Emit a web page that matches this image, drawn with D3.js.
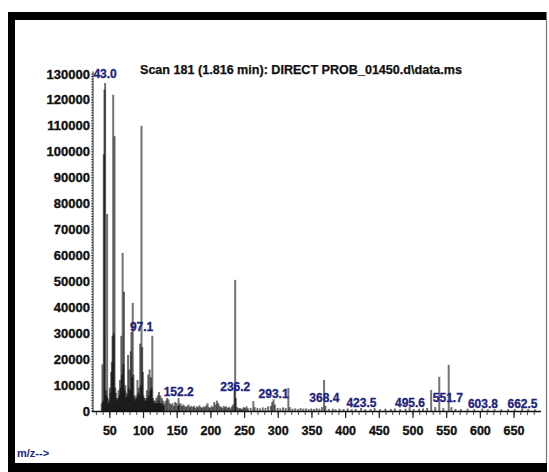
<!DOCTYPE html>
<html lang="en">
<head>
  <meta charset="UTF-8" />
  <title>Scan 181 mass spectrum</title>
  <style>
    html, body { margin:0; padding:0; background:#fff; }
    svg { display:block; font-family:"Liberation Sans", Arial, sans-serif; }
    .tick-lbl { font-weight:bold; fill:#111; stroke:#111; stroke-width:0.35px; }
    .peak-lbl { font-weight:bold; fill:#1c2280; stroke:#1c2280; stroke-width:0.3px; }
  </style>
</head>
<body>
  <svg id="chart" width="549" height="472"></svg>
  <script src="https://d3js.org/d3.v7.min.js"></script>
  <script>
  // m/z values of the peaks and their abundances
  const peakMz = [
    38,39,40,41,42,43,44,45,46,47,48,49,50,51,52,53,54,55,56,57,58,59,60,61,62,63,64,65,66,67,68,69,70,
    71,72,73,74,75,76,77,78,79,80,81,82,83,84,85,86,87,88,89,90,91,92,93,94,95,96,97,98,99,100,
    101,102,103,104,105,106,107,108,109,110,111,112,113,114,115,116,117,118,119,120,121,122,123,124,125,
    126,127,128,129,130,131,133,135,137,139,141,143,145,147,149,151,152,153,155,157,159,161,163,165,167,
    169,171,173,175,177,179,181,183,185,187,189,191,193,195,197,199,201,203,205,207,209,211,213,215,217,
    219,221,223,225,227,229,231,233,235,236,237,239,241,243,245,247,249,251,253,255,259,263,265,269,273,
    277,281,285,289,291,293,295,299,303,307,311,315,317,321,325,329,333,337,341,345,349,353,357,361,365,
    368,370,375,381,385,391,397,403,409,415,423,429,437,443,451,459,467,473,481,489,495,501,509,515,521,
    527,533,539,545,553,557,563,571,581,591,603,611,621,631,641,651,662,671,681
  ];
  const peakAbund = [
    3000,18000,4000,99000,124000,126500,8000,6000,76000,5000,3000,4000,9000,7000,15000,19000,29000,122000,30000,106000,9000,7000,5000,4000,5000,8000,6000,12000,9000,29000,14000,61000,18000,
    46000,8000,10000,5000,7000,6000,21600,9000,16000,8000,23000,30500,13000,41700,14000,6000,5000,4000,6000,5000,12000,7000,9000,6000,26000,10000,110000,24700,15000,6000,
    5000,4000,5000,4000,8000,5000,14000,6000,16000,8000,13000,9000,29000,5000,4000,3000,4000,3000,5000,3000,6000,4000,7300,3000,6000,
    3000,5000,2500,4000,2000,3000,4000,5000,4500,3000,2500,3000,2000,3500,3000,2000,5000,2500,3000,2000,2500,2000,1500,2000,2500,
    1500,2000,1500,2000,1200,1800,1500,2200,1500,1200,1800,1500,2200,3000,1500,1200,2000,1500,3500,2500,4000,3000,2000,1500,1200,
    2000,1500,1800,1200,1500,1000,1800,2500,9000,50600,5000,1500,1000,1200,800,1000,1500,1200,1800,1000,1200,3800,1500,1200,1000,
    1400,1200,1800,2000,3500,4500,2500,1200,1000,1400,1200,8900,1500,900,1000,800,1200,900,1000,700,1000,800,1100,900,1500,
    12000,2000,800,900,700,900,800,1000,700,800,1200,700,800,1200,700,900,800,1000,700,900,1500,800,900,1000,1200,
    8100,1500,13200,1200,17800,1500,800,700,900,700,1000,700,800,700,700,800,1000,700,600
  ];

  // peak annotations: text, m/z and abundance level of the label baseline
  const labelText = ["43.0","97.1","152.2","236.2","293.1","368.4","423.5","495.6","551.7","603.8","662.5"];
  const labelMz   = [43, 97.1, 152.2, 236.2, 293.1, 368.4, 423.5, 495.6, 551.7, 603.8, 662.5];
  const labelAbund = [128500, 30900, 5800, 7700, 5200, 3300, 1500, 1500, 3500, 1200, 1200];

  const yTicks = [0,10000,20000,30000,40000,50000,60000,70000,80000,90000,100000,110000,120000,130000];
  const xTicks = [50,100,150,200,250,300,350,400,450,500,550,600,650];

  const title = "Scan 181 (1.816 min): DIRECT PROB_01450.d\\data.ms";
  const xCaption = "m/z-->";

  const svg = d3.select('#chart');

  // frame: thick black border, thin grey right edge
  svg.append('rect').attr('x',8).attr('y',12).attr('width',541).attr('height',462).attr('fill','#000');
  svg.append('rect').attr('x',15).attr('y',20).attr('width',531).attr('height',443).attr('fill','#fff');
  svg.append('rect').attr('x',547).attr('y',12).attr('width',2).attr('height',462).attr('fill','#fff');
  svg.append('line').attr('x1',546.5).attr('x2',546.5).attr('y1',12).attr('y2',463)
    .attr('stroke','#777').attr('stroke-width',1.2);

  const x = d3.scaleLinear().domain([25, 690]).range([93, 541]);
  const y = d3.scaleLinear().domain([0, 130000]).range([411, 74]);

  // peaks (translucent so that crowded lines add up to solid black)
  const peaks = peakMz.map((m,i) => ({ m, v: peakAbund[i] }));
  svg.append('g').selectAll('line').data(peaks).join('line')
    .attr('x1', d => x(d.m)).attr('x2', d => x(d.m))
    .attr('y1', y(0)).attr('y2', d => y(d.v))
    .attr('stroke','#000').attr('stroke-opacity',0.55).attr('stroke-width',2);

  // y axis: line + dense minor ticks
  const yAxis = svg.append('g');
  yAxis.append('line').attr('x1',93).attr('x2',93).attr('y1',y(0)).attr('y2',y(131000))
    .attr('stroke','#222').attr('stroke-width',1);
  yAxis.selectAll('line.minor').data(d3.range(0, 131000, 1000)).join('line').attr('class','minor')
    .attr('x1',91).attr('x2',93).attr('y1', d => y(d)).attr('y2', d => y(d))
    .attr('stroke','#333').attr('stroke-width',0.8);
  yAxis.selectAll('text').data(yTicks).join('text').attr('class','tick-lbl')
    .attr('x',90).attr('y', d => y(d)).attr('dy','0.35em')
    .attr('text-anchor','end').attr('font-size','13px')
    .text(d => d);

  // x axis
  const xAxis = svg.append('g');
  xAxis.append('line').attr('x1',92).attr('x2',541).attr('y1',411.5).attr('y2',411.5)
    .attr('stroke','#111').attr('stroke-width',1.6);
  xAxis.selectAll('line.minor').data(d3.range(30, 690, 10)).join('line').attr('class','minor')
    .attr('x1', d => x(d)).attr('x2', d => x(d)).attr('y1',412).attr('y2',415)
    .attr('stroke','#333').attr('stroke-width',0.9);
  xAxis.selectAll('line.major').data(xTicks).join('line').attr('class','major')
    .attr('x1', d => x(d)).attr('x2', d => x(d)).attr('y1',412).attr('y2',418)
    .attr('stroke','#222').attr('stroke-width',1.2);
  xAxis.selectAll('text').data(xTicks).join('text').attr('class','tick-lbl')
    .attr('x', d => x(d)).attr('y',435)
    .attr('text-anchor','middle').attr('font-size','12.5px')
    .text(d => d);

  // peak labels
  svg.append('g').selectAll('text').data(labelText).join('text').attr('class','peak-lbl')
    .attr('x', (d,i) => x(labelMz[i])).attr('y', (d,i) => y(labelAbund[i]))
    .attr('text-anchor','middle').attr('font-size','12px')
    .text(d => d);

  // title and axis caption
  svg.append('text').attr('x',301).attr('y',74).attr('text-anchor','middle')
    .attr('font-size','12px').attr('font-weight','bold').attr('fill','#111')
    .attr('stroke','#111').attr('stroke-width',0.25)
    .attr('textLength',322).attr('lengthAdjust','spacingAndGlyphs')
    .text(title);
  svg.append('text').attr('x',17).attr('y',457)
    .attr('font-size','11px').attr('font-weight','bold').attr('fill','#1c2280')
    .text(xCaption);
  </script>
</body>
</html>
